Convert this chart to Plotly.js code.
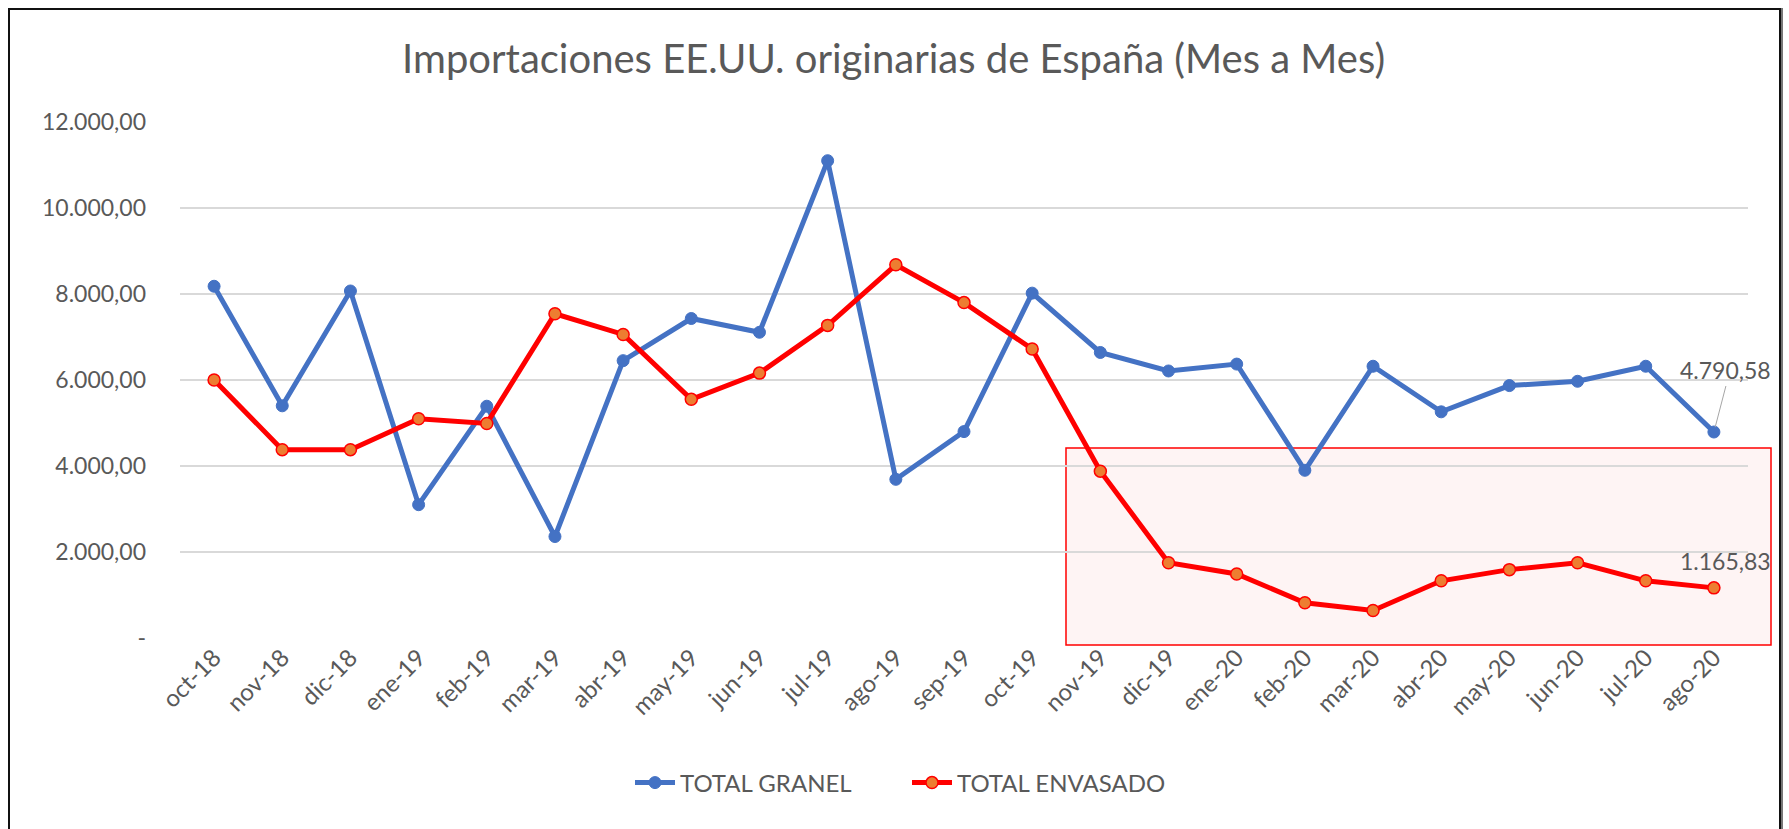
<!DOCTYPE html>
<html>
<head>
<meta charset="utf-8">
<script src="https://cdn.plot.ly/plotly-3.0.1.min.js"></script>
<style>
html,body{margin:0;padding:0;background:#fff;}
#chart{position:absolute;left:0;top:0;width:1789px;height:829px;}
#frame{position:absolute;left:8px;top:8px;width:1773px;height:830px;border:2px solid #111;pointer-events:none;box-sizing:border-box;box-shadow:2px 0 0 #777;}
</style>
</head>
<body>
<div id="chart"></div>
<div id="frame"></div>
<script>
const months = ["oct-18","nov-18","dic-18","ene-19","feb-19","mar-19","abr-19","may-19","jun-19","jul-19","ago-19","sep-19","oct-19","nov-19","dic-19","ene-20","feb-20","mar-20","abr-20","may-20","jun-20","jul-20","ago-20"];
const totalGranel = [8180,5400,8070,3100,5390,2360,6450,7430,7110,11100,3690,4800,8020,6640,6210,6370,3900,6320,5260,5870,5970,6320,4790.58];
const totalEnvasado = [6000,4380,4380,5100,4990,7540,7060,5550,6160,7270,8680,7800,6720,3880,1750,1490,820,640,1330,1590,1750,1330,1165.83];
const yTickVals = [0,2000,4000,6000,8000,10000,12000];
const yTickText = ["-","2.000,00","4.000,00","6.000,00","8.000,00","10.000,00","12.000,00"];
const lastGranelLabel = "4.790,58";
const lastEnvasadoLabel = "1.165,83";

const FONT = "Lato, 'Open Sans', sans-serif";
const GREY = "#595959";

const traces = [
  {
    x: months, y: totalGranel, name: "TOTAL GRANEL", type: "scatter", mode: "lines+markers",
    line: {color: "#4472C4", width: 5},
    marker: {color: "#4472C4", size: 12, line: {color: "#4472C4", width: 1}}
  },
  {
    x: months, y: totalEnvasado, name: "TOTAL ENVASADO", type: "scatter", mode: "lines+markers",
    line: {color: "#FF0000", width: 5},
    marker: {color: "#ED7D31", size: 12, line: {color: "#FF0000", width: 1.5}}
  }
];

const n = months.length;
const layout = {
  width: 1789, height: 829,
  margin: {l: 180, r: 41, t: 122, b: 191},
  paper_bgcolor: "#fff", plot_bgcolor: "rgba(0,0,0,0)",
  font: {family: FONT, color: GREY, size: 20},
  title: {text: "Importaciones EE.UU. originarias de España (Mes a Mes)", font: {family: FONT, size: 40, color: GREY}, x: 0.4995, xanchor: "center", y: 1 - 59/829, yanchor: "middle", yref: "container"},
  xaxis: {
    type: "category", tickangle: -45, showgrid: false, zeroline: false, showline: false,
    ticks: "", tickfont: {family: FONT, size: 24, color: GREY}, range: [-0.5, n - 0.5], fixedrange: true
  },
  yaxis: {
    range: [0, 12000], tickvals: yTickVals, ticktext: yTickText, showgrid: true, gridcolor: "#d9d9d9", gridwidth: 1.3,
    zeroline: false, showline: false, ticks: "", ticklabelstandoff: 33, tickfont: {family: FONT, size: 23, color: GREY}, fixedrange: true
  },
  showlegend: true,
  legend: {orientation: "h", x: (630-180)/1568, xanchor: "left", y: (638-783)/516, yanchor: "middle", font: {family: FONT, size: 24, color: GREY}, itemwidth: 40, entrywidth: 222, entrywidthmode: "pixels", tracegroupgap: 0},
  shapes: [
    {type: "rect", layer: "below", xref: "paper", yref: "paper", x0: (1066-180)/1568, x1: (1771-180)/1568, y0: (638-645)/516, y1: (638-448)/516,
     fillcolor: "rgba(252,228,228,0.4)", line: {color: "#FF0000", width: 1.5}}
  ],
  annotations: [
    {x: months[n-1], y: totalGranel[n-1], text: lastGranelLabel, showarrow: true, arrowhead: 0, arrowwidth: 1, arrowcolor: "#a6a6a6",
     ax: 12, ay: -46, standoff: 5, font: {family: FONT, size: 23, color: GREY}, yanchor: "bottom"},
    {x: months[n-1], y: totalEnvasado[n-1], text: lastEnvasadoLabel, showarrow: false, xshift: 12, yshift: 27,
     font: {family: FONT, size: 23, color: GREY}}
  ]
};
Plotly.newPlot("chart", traces, layout, {displayModeBar: false, staticPlot: true});
</script>
</body>
</html>
